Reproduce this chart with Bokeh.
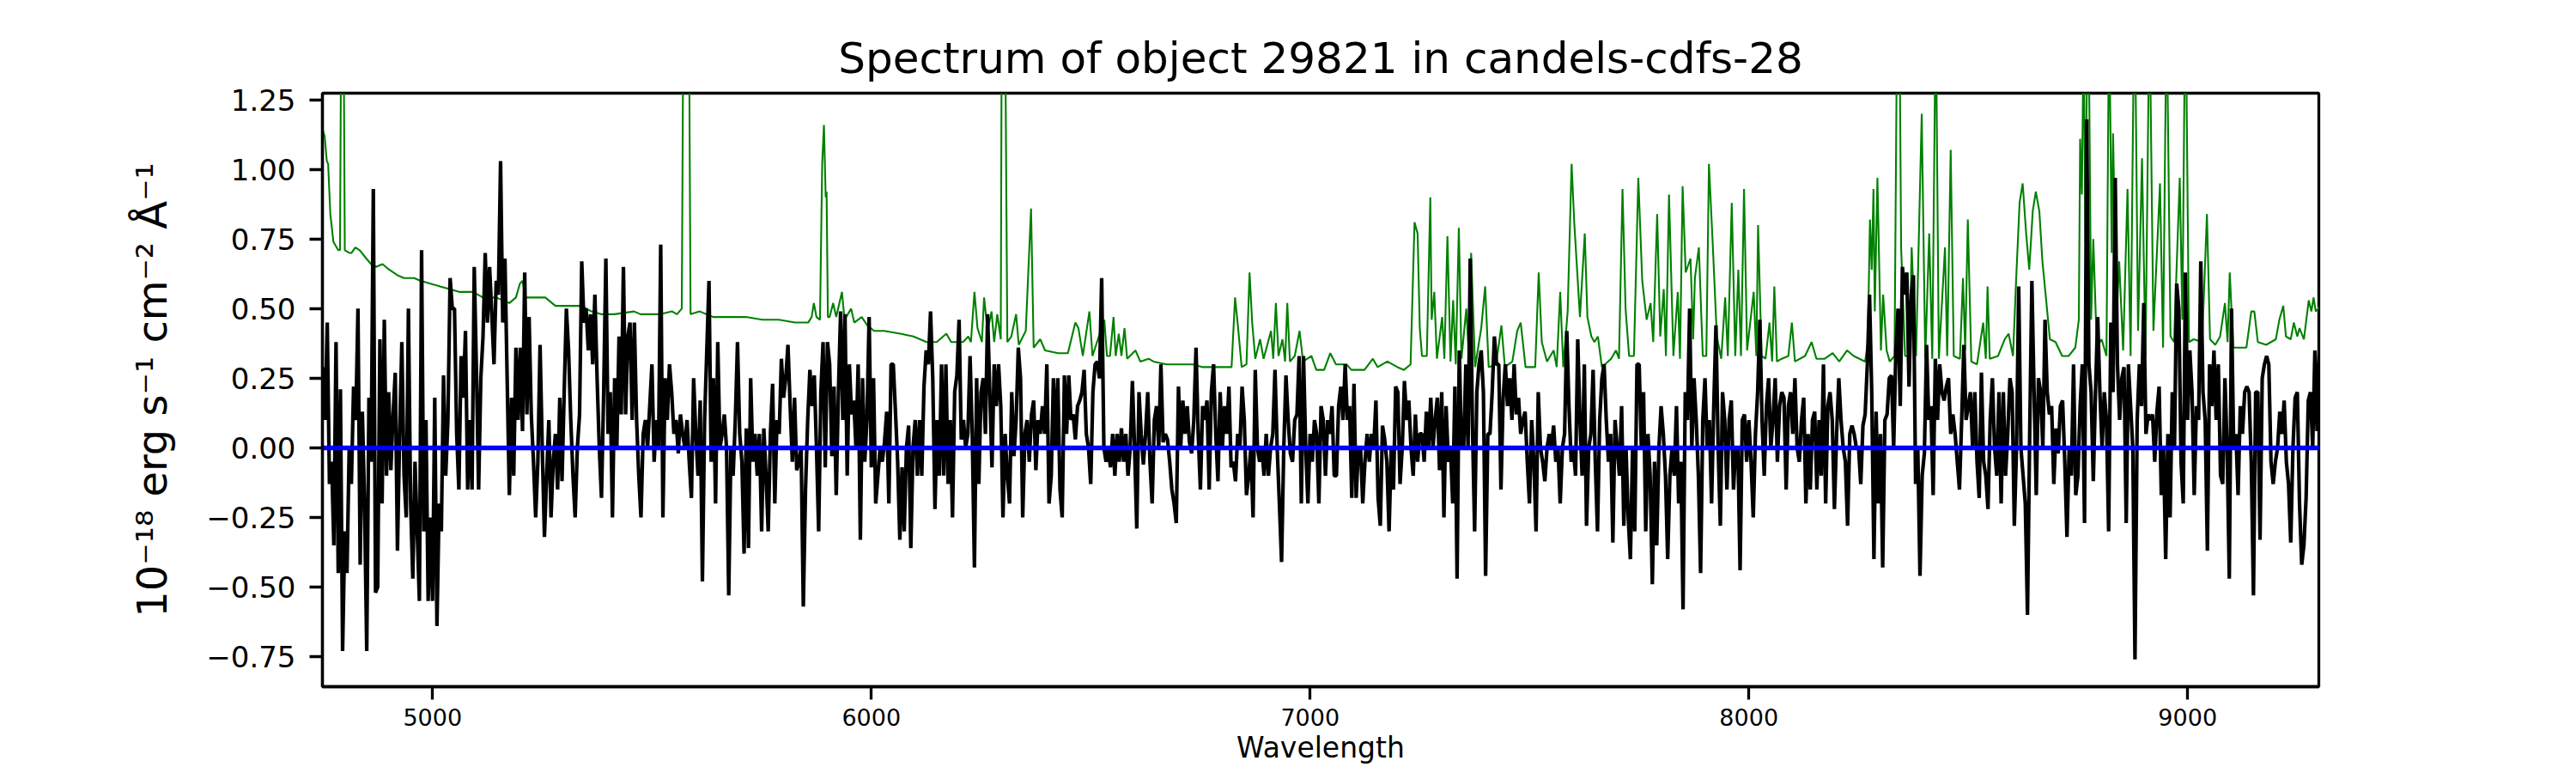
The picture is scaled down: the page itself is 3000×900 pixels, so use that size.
from bokeh.plotting import figure
from bokeh.models import Range1d, FixedTicker, CustomJSTickFormatter
from bokeh.embed import file_html
from bokeh.resources import INLINE

# ---------------- data ----------------
title_text = "Spectrum of object 29821 in candels-cdfs-28"
x_label = "Wavelength"
y_label = "10\u207b\u00b9\u2078 erg s\u207b\u00b9 cm\u207b\u00b2 \u00c5\u207b\u00b9"

x_ticks = [5000, 6000, 7000, 8000, 9000]
y_ticks = [-0.75, -0.5, -0.25, 0.0, 0.25, 0.5, 0.75, 1.0, 1.25]

wave_start = 4750   # first pixel (Angstrom)
wave_step = 5       # pixel size (Angstrom)

# observed flux, one row per 100 Angstrom (4750, 4850, ...)
flux_rows = [
    [0.29, 0.10, 0.45, -0.13, -0.05, -0.35, 0.38, -0.45, 0.21, -0.73, -0.30, -0.45, 0.00, -0.13, 0.22, 0.10, 0.50, -0.42, 0.13, -0.20],
    [-0.73, 0.18, -0.05, 0.93, -0.52, -0.50, 0.39, -0.20, 0.46, -0.10, 0.20, -0.08, 0.12, 0.27, -0.37, 0.05, 0.38, -0.10, -0.25, 0.50],
    [-0.20, -0.47, -0.05, -0.30, -0.55, 0.71, -0.30, 0.10, -0.55, -0.25, -0.55, 0.18, -0.64, -0.20, -0.30, 0.26, -0.10, 0.10, 0.61, 0.50],
    [0.50, 0.05, -0.15, 0.33, 0.18, 0.42, -0.15, 0.10, -0.15, 0.65, 0.28, -0.15, 0.25, 0.40, 0.70, 0.45, 0.65, 0.48, 0.30, 0.60],
    [0.55, 1.03, 0.45, 0.68, 0.25, -0.17, 0.18, -0.10, 0.36, 0.10, 0.36, 0.06, 0.63, 0.12, 0.47, 0.12, -0.05, -0.25, -0.05, 0.37],
    [0.00, -0.32, -0.10, 0.10, -0.25, -0.05, 0.05, -0.15, 0.18, -0.12, 0.20, 0.50, 0.35, 0.10, -0.10, -0.25, 0.00, 0.12, 0.67, 0.45],
    [0.50, 0.35, 0.48, 0.30, 0.55, 0.25, 0.00, -0.18, 0.20, 0.68, 0.05, 0.20, -0.25, 0.25, 0.00, 0.40, 0.12, 0.65, 0.12, 0.40],
    [0.45, 0.10, 0.45, 0.10, -0.10, -0.25, 0.05, 0.10, 0.00, 0.15, 0.30, -0.05, 0.10, 0.00, 0.73, -0.25, 0.25, 0.10, 0.30, 0.20],
    [0.05, 0.10, -0.02, 0.12, 0.05, 0.00, 0.10, -0.05, -0.18, 0.25, 0.05, -0.10, 0.17, -0.48, 0.10, 0.35, 0.60, -0.05, 0.25, -0.20],
    [0.38, 0.00, 0.05, 0.12, 0.00, -0.53, 0.00, -0.10, 0.10, 0.38, 0.05, -0.05, -0.38, 0.07, -0.36, 0.25, -0.05, 0.05, -0.10, 0.05],
    [-0.30, 0.07, -0.10, -0.30, 0.05, 0.23, -0.20, 0.10, 0.05, 0.32, 0.18, 0.25, 0.37, 0.15, -0.05, 0.18, -0.08, -0.05, 0.00, -0.57],
    [-0.15, 0.10, 0.28, 0.15, 0.26, 0.00, -0.30, 0.20, 0.38, -0.07, 0.38, 0.30, -0.03, 0.22, -0.17, 0.20, 0.49, 0.10, 0.48, -0.10],
    [0.30, 0.12, 0.17, 0.00, 0.30, -0.33, 0.25, -0.05, 0.10, 0.47, -0.07, 0.25, -0.20, -0.10, 0.00, -0.05, 0.02, 0.13, -0.20, 0.30],
    [0.30, 0.13, -0.05, -0.33, -0.07, -0.30, 0.00, 0.08, -0.36, 0.00, 0.10, -0.10, 0.10, -0.10, 0.22, 0.35, 0.30, 0.49, 0.25, -0.22],
    [0.10, -0.10, 0.30, -0.10, 0.30, -0.13, 0.10, -0.25, 0.20, 0.26, 0.46, 0.03, 0.10, 0.00, 0.05, 0.33, 0.05, -0.43, 0.25, -0.13],
    [0.20, 0.25, 0.05, 0.48, 0.20, -0.07, 0.30, 0.15, 0.30, 0.15, -0.25, 0.05, -0.10, -0.20, 0.20, -0.03, 0.10, 0.36, 0.25, -0.25],
    [0.05, 0.10, -0.05, 0.12, 0.17, -0.08, 0.10, 0.05, 0.15, 0.05, 0.30, -0.20, -0.10, 0.25, 0.00, 0.25, -0.15, -0.25, 0.26, 0.05],
    [0.26, 0.10, 0.12, 0.03, 0.15, 0.17, 0.20, 0.28, 0.05, 0.00, -0.13, 0.20, 0.30, 0.31, 0.25, 0.61, 0.00, -0.05, 0.00, -0.07],
    [0.05, -0.10, 0.05, -0.05, 0.07, -0.05, 0.05, -0.10, 0.00, 0.24, 0.00, -0.29, 0.20, 0.05, -0.06, 0.05, 0.20, -0.05, -0.20, 0.10],
    [0.15, 0.00, 0.30, 0.02, 0.05, 0.03, -0.05, -0.15, -0.20, -0.27, 0.22, 0.00, 0.17, 0.05, 0.15, 0.02, -0.02, 0.10, 0.36, 0.05],
    [-0.15, 0.15, 0.10, 0.17, -0.15, 0.20, 0.30, 0.05, -0.12, 0.20, 0.00, 0.15, 0.05, 0.22, -0.07, -0.05, -0.12, 0.05, 0.00, 0.22],
    [0.10, -0.17, -0.10, 0.00, -0.25, 0.28, 0.00, -0.05, 0.00, -0.10, 0.05, -0.10, 0.00, 0.05, 0.28, 0.00, -0.20, -0.41, 0.00, 0.26],
    [0.10, -0.02, -0.05, 0.10, 0.12, 0.33, -0.20, 0.33, 0.00, -0.20, 0.05, -0.05, 0.10, 0.05, -0.20, 0.15, 0.10, -0.10, 0.10, 0.05],
    [0.15, -0.10, -0.10, 0.15, 0.22, 0.10, 0.30, 0.10, 0.15, -0.18, 0.23, -0.18, 0.00, 0.00, -0.20, -0.05, 0.05, -0.05, 0.05, 0.00],
    [0.17, -0.18, -0.28, 0.08, 0.03, -0.05, -0.30, 0.00, -0.15, 0.22, 0.20, -0.13, 0.00, 0.24, 0.10, 0.17, 0.00, -0.10, 0.12, -0.05],
    [0.05, 0.05, -0.05, 0.13, 0.00, 0.18, 0.00, 0.10, 0.18, -0.08, 0.20, -0.25, 0.15, -0.05, 0.00, -0.20, 0.22, -0.47, 0.35, 0.00],
    [0.00, 0.30, 0.00, 0.68, 0.08, -0.30, 0.20, 0.30, 0.35, 0.20, -0.46, 0.05, 0.05, 0.20, 0.40, 0.30, 0.30, -0.15, 0.18, 0.30],
    [0.15, 0.25, 0.10, 0.30, 0.12, 0.18, 0.05, 0.10, 0.13, -0.05, -0.20, 0.10, -0.05, -0.30, 0.20, 0.00, -0.05, -0.12, 0.00, 0.05],
    [0.00, 0.08, -0.05, 0.00, -0.20, 0.00, 0.05, 0.42, 0.15, -0.05, 0.00, -0.10, 0.39, 0.10, -0.10, 0.30, -0.28, 0.00, 0.05, 0.28],
    [-0.05, -0.30, 0.10, 0.25, 0.30, 0.10, -0.05, 0.05, -0.34, 0.10, 0.00, -0.10, 0.15, -0.28, 0.00, -0.25, -0.40, 0.00, -0.30, 0.30],
    [0.30, 0.00, 0.20, -0.30, 0.05, -0.10, -0.49, -0.05, -0.35, 0.00, 0.15, 0.05, -0.10, -0.40, -0.10, 0.00, -0.10, 0.15, -0.20, -0.05],
    [-0.58, 0.20, 0.10, 0.50, 0.00, 0.25, 0.10, -0.10, -0.45, 0.10, 0.25, 0.00, 0.10, -0.20, 0.15, 0.44, 0.00, -0.28, 0.20, 0.10],
    [-0.15, 0.10, 0.17, -0.15, 0.00, 0.00, -0.44, 0.10, 0.12, -0.05, 0.10, -0.05, -0.25, 0.05, 0.20, 0.46, 0.10, -0.10, 0.15, 0.25],
    [0.00, 0.10, 0.25, -0.05, 0.15, 0.20, 0.18, -0.15, 0.15, 0.20, 0.05, 0.25, 0.00, -0.05, 0.10, 0.18, -0.20, 0.05, -0.15, 0.10],
    [0.13, -0.15, 0.10, -0.10, 0.30, -0.20, 0.15, 0.20, 0.10, -0.22, 0.05, 0.25, 0.10, 0.00, -0.05, -0.28, 0.05, 0.08, 0.05, 0.00],
    [0.00, -0.13, 0.08, 0.12, 0.30, 0.55, 0.20, -0.40, 0.13, -0.20, 0.05, -0.43, 0.10, 0.12, 0.25, 0.26, 0.00, 0.35, 0.50, 0.15],
    [0.65, 0.55, 0.63, 0.22, 0.55, 0.62, -0.13, 0.00, -0.46, -0.10, -0.02, 0.37, 0.10, 0.15, -0.17, 0.32, 0.10, 0.30, 0.20, 0.17],
    [0.22, 0.25, 0.05, 0.12, 0.05, -0.05, -0.15, 0.10, 0.37, 0.10, 0.15, 0.20, 0.00, 0.20, -0.05, -0.18, 0.27, -0.05, -0.10, -0.22],
    [0.10, 0.25, 0.00, -0.10, 0.20, -0.20, 0.20, -0.10, 0.05, 0.25, 0.20, -0.28, 0.00, 0.58, 0.00, -0.10, -0.20, -0.60, 0.05, 0.60],
    [0.20, -0.17, 0.25, 0.20, 0.00, 0.46, 0.20, 0.12, 0.15, -0.13, 0.07, -0.02, 0.15, 0.17, -0.05, -0.32, 0.00, -0.10, 0.30, -0.17],
    [-0.10, 0.15, 0.30, -0.27, 1.18, 0.30, 0.20, -0.12, 0.20, 0.47, 0.20, 0.00, 0.20, 0.10, -0.30, 0.45, 0.20, 0.97, 0.30, 0.10],
    [0.25, 0.29, -0.27, 0.30, 0.15, 0.00, -0.76, 0.10, 0.30, 0.15, 0.52, 0.05, 0.12, 0.10, 0.12, -0.05, 0.13, 0.22, -0.17, 0.00],
    [-0.40, 0.05, -0.25, 0.20, 0.00, 0.59, 0.50, -0.05, -0.20, 0.63, 0.10, 0.35, 0.20, -0.17, 0.15, 0.10, 0.67, 0.20, 0.10, -0.37],
    [0.30, 0.15, 0.35, 0.10, 0.30, -0.10, -0.13, 0.25, 0.00, -0.47, 0.50, 0.00, 0.05, -0.17, 0.15, 0.05, 0.20, 0.22, 0.20, -0.05],
    [-0.53, 0.20, 0.20, -0.33, 0.25, 0.30, 0.33, 0.30, -0.05, -0.13, -0.05, 0.00, 0.13, 0.05, 0.17, -0.05, -0.13, -0.34, 0.00, 0.18],
    [0.20, -0.20, -0.42, -0.35, -0.18, 0.17, 0.20, 0.00, 0.35, 0.06, 0.35],
]

# noise / sky spectrum (green), (wavelength, value)
noise_points = [
    (4750, 1.14), (4754, 1.12), (4759, 1.03), (4762, 1.02), (4767, 0.84), (4774, 0.74), (4785, 0.71),
    (4789, 0.71), (4792, 1.60), (4797, 1.60), (4800, 0.71), (4811, 0.70), (4815, 0.70), (4824, 0.72),
    (4834, 0.71), (4849, 0.68), (4860, 0.66), (4871, 0.65), (4886, 0.66), (4901, 0.64), (4920, 0.62),
    (4935, 0.61), (4958, 0.61), (4973, 0.60), (4995, 0.59), (5017, 0.58), (5040, 0.57), (5062, 0.56),
    (5092, 0.56), (5115, 0.54), (5145, 0.54), (5175, 0.52), (5190, 0.54), (5199, 0.59), (5205, 0.60),
    (5212, 0.54), (5223, 0.54), (5242, 0.54), (5257, 0.54), (5280, 0.51), (5310, 0.51), (5340, 0.51),
    (5362, 0.49), (5384, 0.48), (5414, 0.48), (5459, 0.49), (5474, 0.48), (5519, 0.48), (5546, 0.49),
    (5557, 0.48), (5568, 0.50), (5573, 2.00), (5583, 2.00), (5588, 0.48), (5609, 0.49), (5639, 0.47),
    (5677, 0.47), (5714, 0.47), (5752, 0.46), (5789, 0.46), (5826, 0.45), (5856, 0.45), (5864, 0.47),
    (5869, 0.52), (5875, 0.47), (5883, 0.46), (5888, 1.02), (5892, 1.16), (5896, 0.90), (5898, 0.92),
    (5901, 0.47), (5905, 0.47), (5913, 0.52), (5920, 0.47), (5933, 0.56), (5939, 0.46), (5954, 0.50),
    (5961, 0.45), (5978, 0.47), (5991, 0.44), (6006, 0.42), (6029, 0.42), (6066, 0.41), (6096, 0.40),
    (6126, 0.38), (6149, 0.38), (6171, 0.41), (6182, 0.38), (6209, 0.38), (6221, 0.40), (6227, 0.38),
    (6235, 0.56), (6242, 0.43), (6252, 0.38), (6257, 0.54), (6265, 0.42), (6274, 0.49), (6280, 0.38),
    (6287, 0.48), (6295, 0.39), (6298, 2.00), (6303, 2.00), (6310, 0.38), (6319, 0.40), (6330, 0.48),
    (6336, 0.37), (6352, 0.42), (6364, 0.86), (6370, 0.36), (6385, 0.39), (6396, 0.35), (6426, 0.34),
    (6448, 0.34), (6465, 0.45), (6472, 0.43), (6482, 0.33), (6497, 0.49), (6504, 0.33), (6531, 0.46),
    (6537, 0.33), (6544, 0.33), (6552, 0.47), (6557, 0.33), (6564, 0.41), (6570, 0.33), (6577, 0.43),
    (6583, 0.32), (6602, 0.35), (6613, 0.31), (6632, 0.32), (6643, 0.31), (6673, 0.30), (6699, 0.30),
    (6733, 0.30), (6755, 0.29), (6793, 0.29), (6821, 0.29), (6829, 0.54), (6836, 0.43), (6844, 0.29),
    (6855, 0.30), (6862, 0.63), (6868, 0.45), (6875, 0.32), (6886, 0.39), (6894, 0.32), (6911, 0.42),
    (6916, 0.32), (6922, 0.52), (6928, 0.33), (6937, 0.39), (6943, 0.31), (6948, 0.52), (6954, 0.31),
    (6965, 0.33), (6976, 0.42), (6984, 0.31), (7003, 0.33), (7014, 0.28), (7032, 0.28), (7046, 0.34),
    (7059, 0.30), (7083, 0.30), (7094, 0.28), (7124, 0.28), (7143, 0.32), (7154, 0.29), (7176, 0.31),
    (7199, 0.29), (7214, 0.28), (7229, 0.30), (7238, 0.81), (7245, 0.77), (7250, 0.43), (7255, 0.33),
    (7266, 0.33), (7274, 0.90), (7277, 0.46), (7283, 0.56), (7289, 0.32), (7301, 0.47), (7306, 0.32),
    (7313, 0.76), (7320, 0.31), (7326, 0.53), (7332, 0.30), (7339, 0.79), (7345, 0.32), (7356, 0.50),
    (7362, 0.32), (7367, 0.70), (7376, 0.29), (7390, 0.43), (7399, 0.58), (7407, 0.29), (7424, 0.30),
    (7436, 0.44), (7444, 0.29), (7461, 0.31), (7472, 0.42), (7480, 0.45), (7491, 0.29), (7513, 0.29),
    (7521, 0.63), (7528, 0.38), (7540, 0.31), (7555, 0.35), (7562, 0.29), (7570, 0.56), (7577, 0.29),
    (7587, 0.49), (7596, 1.02), (7602, 0.81), (7615, 0.47), (7626, 0.77), (7632, 0.47), (7641, 0.40),
    (7648, 0.38), (7656, 0.40), (7665, 0.29), (7686, 0.32), (7697, 0.35), (7704, 0.32), (7712, 0.93),
    (7719, 0.50), (7727, 0.33), (7738, 0.33), (7748, 0.97), (7757, 0.60), (7767, 0.46), (7776, 0.52),
    (7782, 0.38), (7791, 0.84), (7798, 0.40), (7806, 0.57), (7811, 0.33), (7818, 0.91), (7828, 0.33),
    (7838, 0.56), (7843, 0.32), (7849, 0.94), (7856, 0.63), (7867, 0.68), (7873, 0.39), (7877, 0.61),
    (7886, 0.72), (7895, 0.33), (7903, 0.33), (7909, 1.02), (7918, 0.72), (7927, 0.40), (7937, 0.32),
    (7946, 0.54), (7952, 0.33), (7961, 0.88), (7969, 0.33), (7976, 0.64), (7982, 0.33), (7989, 0.93),
    (7996, 0.35), (8011, 0.56), (8017, 0.33), (8021, 0.80), (8029, 0.33), (8038, 0.32), (8047, 0.45),
    (8053, 0.31), (8058, 0.58), (8064, 0.31), (8075, 0.32), (8090, 0.33), (8098, 0.45), (8105, 0.31),
    (8128, 0.33), (8143, 0.38), (8154, 0.32), (8173, 0.32), (8191, 0.34), (8206, 0.31), (8224, 0.35),
    (8239, 0.33), (8265, 0.31), (8271, 0.38), (8276, 0.82), (8280, 0.64), (8284, 0.93), (8287, 0.49),
    (8293, 0.97), (8301, 0.35), (8306, 0.55), (8314, 0.35), (8321, 0.31), (8332, 0.33), (8338, 1.60),
    (8343, 1.60), (8347, 0.72), (8356, 0.33), (8366, 0.33), (8371, 0.72), (8381, 0.33), (8394, 1.20),
    (8402, 0.32), (8411, 0.77), (8418, 0.32), (8426, 1.60), (8433, 0.32), (8447, 0.72), (8452, 0.33),
    (8460, 1.07), (8467, 0.33), (8481, 0.32), (8488, 0.61), (8493, 0.35), (8499, 0.82), (8507, 0.31),
    (8520, 0.30), (8534, 0.45), (8540, 0.32), (8544, 0.58), (8549, 0.32), (8568, 0.33), (8583, 0.39),
    (8592, 0.41), (8602, 0.33), (8609, 0.60), (8617, 0.88), (8624, 0.95), (8632, 0.77), (8639, 0.64),
    (8647, 0.85), (8654, 0.92), (8662, 0.85), (8669, 0.67), (8677, 0.54), (8686, 0.39), (8699, 0.38),
    (8714, 0.33), (8729, 0.33), (8744, 0.36), (8752, 0.46), (8755, 1.11), (8759, 0.91), (8763, 1.50),
    (8767, 0.74), (8773, 1.80), (8780, 0.46), (8785, 0.75), (8793, 0.36), (8804, 0.39), (8815, 0.33),
    (8821, 1.60), (8827, 0.70), (8830, 1.13), (8838, 0.46), (8844, 0.67), (8853, 0.35), (8863, 0.93),
    (8870, 0.33), (8879, 1.70), (8887, 0.42), (8896, 1.04), (8904, 0.33), (8913, 1.60), (8922, 0.42),
    (8937, 0.95), (8944, 0.36), (8952, 1.60), (8961, 0.40), (8969, 0.38), (8982, 0.97), (8988, 0.46),
    (8995, 1.70), (9003, 0.38), (9014, 0.39), (9033, 0.38), (9044, 0.84), (9051, 0.39), (9063, 0.37),
    (9074, 0.40), (9085, 0.52), (9091, 0.38), (9096, 0.63), (9104, 0.36), (9119, 0.36), (9134, 0.36),
    (9145, 0.49), (9152, 0.49), (9160, 0.38), (9179, 0.37), (9201, 0.39), (9209, 0.46), (9218, 0.51),
    (9224, 0.40), (9235, 0.39), (9242, 0.45), (9250, 0.40), (9255, 0.43), (9265, 0.39), (9276, 0.53),
    (9282, 0.49), (9287, 0.54), (9292, 0.49), (9298, 0.50), (9300, 0.51),
]

# model (blue) : flat zero continuum
model_wave = [4750, 9300]
model_flux = [0.0, 0.0]

x_limits = (4749, 9299)
y_limits = (-0.858, 1.274)

# ---------------- build ----------------
flux = [v for row in flux_rows for v in row]
wavelength = [wave_start + wave_step * i for i in range(len(flux))]
noise_wave = [w for w, _ in noise_points]
noise_flux = [v for _, v in noise_points]

FONT = "DejaVu Sans"

p = figure(
    width=2992, height=892,
    output_backend="svg", toolbar_location=None,
    x_range=Range1d(*x_limits), y_range=Range1d(*y_limits),
    min_border_left=375, min_border_right=292,
    min_border_top=108, min_border_bottom=91,
    title=title_text,
)
p.background_fill_color = "white"
p.border_fill_color = "white"
p.outline_line_color = "black"
p.outline_line_width = 3.3
p.outline_line_alpha = 1.0
p.xgrid.visible = False
p.ygrid.visible = False

p.title.text_font = FONT
p.title.text_font_size = "50px"
p.title.text_font_style = "normal"
p.title.align = "center"
p.title.text_color = "black"
p.title.standoff = 24

for ax in (p.xaxis[0], p.yaxis[0]):
    ax.axis_line_width = 3.3
    ax.axis_line_color = "black"
    ax.major_tick_line_width = 3.3
    ax.major_tick_line_color = "black"
    ax.major_tick_out = 15
    ax.major_tick_in = 0
    ax.minor_tick_out = 0
    ax.minor_tick_in = 0
    ax.major_label_text_font = FONT
    ax.major_label_text_color = "black"
    ax.axis_label_text_font = FONT
    ax.axis_label_text_font_style = "normal"
    ax.axis_label_text_color = "black"

p.xaxis.ticker = FixedTicker(ticks=x_ticks, minor_ticks=[])
p.yaxis.ticker = FixedTicker(ticks=y_ticks, minor_ticks=[])
p.yaxis.formatter = CustomJSTickFormatter(code="return tick.toFixed(2).replace('-', '\\u2212');")

p.xaxis.major_label_text_font_size = "27px"
p.xaxis.major_label_standoff = 10
p.xaxis.axis_label = x_label
p.xaxis.axis_label_text_font_size = "33px"
p.xaxis.axis_label_standoff = 3

p.yaxis.major_label_text_font_size = "34px"
p.yaxis.major_label_standoff = 16
p.yaxis.axis_label = y_label
p.yaxis.axis_label_text_font_size = "48px"
p.yaxis.axis_label_standoff = 32

p.line(noise_wave, noise_flux, line_color="#008000", line_width=2.1)
p.line(wavelength, flux, line_color="black", line_width=4.2)
p.line(model_wave, model_flux, line_color="#0000ff", line_width=5.5)

open("out.html", "w").write(file_html(p, INLINE))
